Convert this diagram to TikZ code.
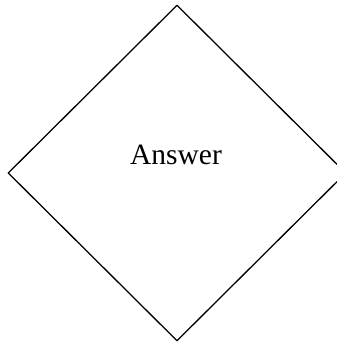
\documentclass[tikz,border=0pt]{standalone}
\usepackage{fontspec}
\setmainfont{Liberation Serif}
\usetikzlibrary{shapes.geometric}
\tikzset{
  decision/.style={diamond,draw,line width=1.3pt,inner sep=0pt,
    minimum width=338pt,minimum height=336pt},
  decisiontext/.style={font=\fontsize{29.5}{34}\selectfont,inner sep=0pt}
}
\begin{document}
\begin{tikzpicture}[x=1pt,y=1pt,line cap=round,line join=round]
  \useasboundingbox (0,0) rectangle (337,-343);
  \node[decision] (answer) at (177,-173) {};
  \node[decisiontext] (answertext) at (176,-155) {Answer};
\end{tikzpicture}
\end{document}
